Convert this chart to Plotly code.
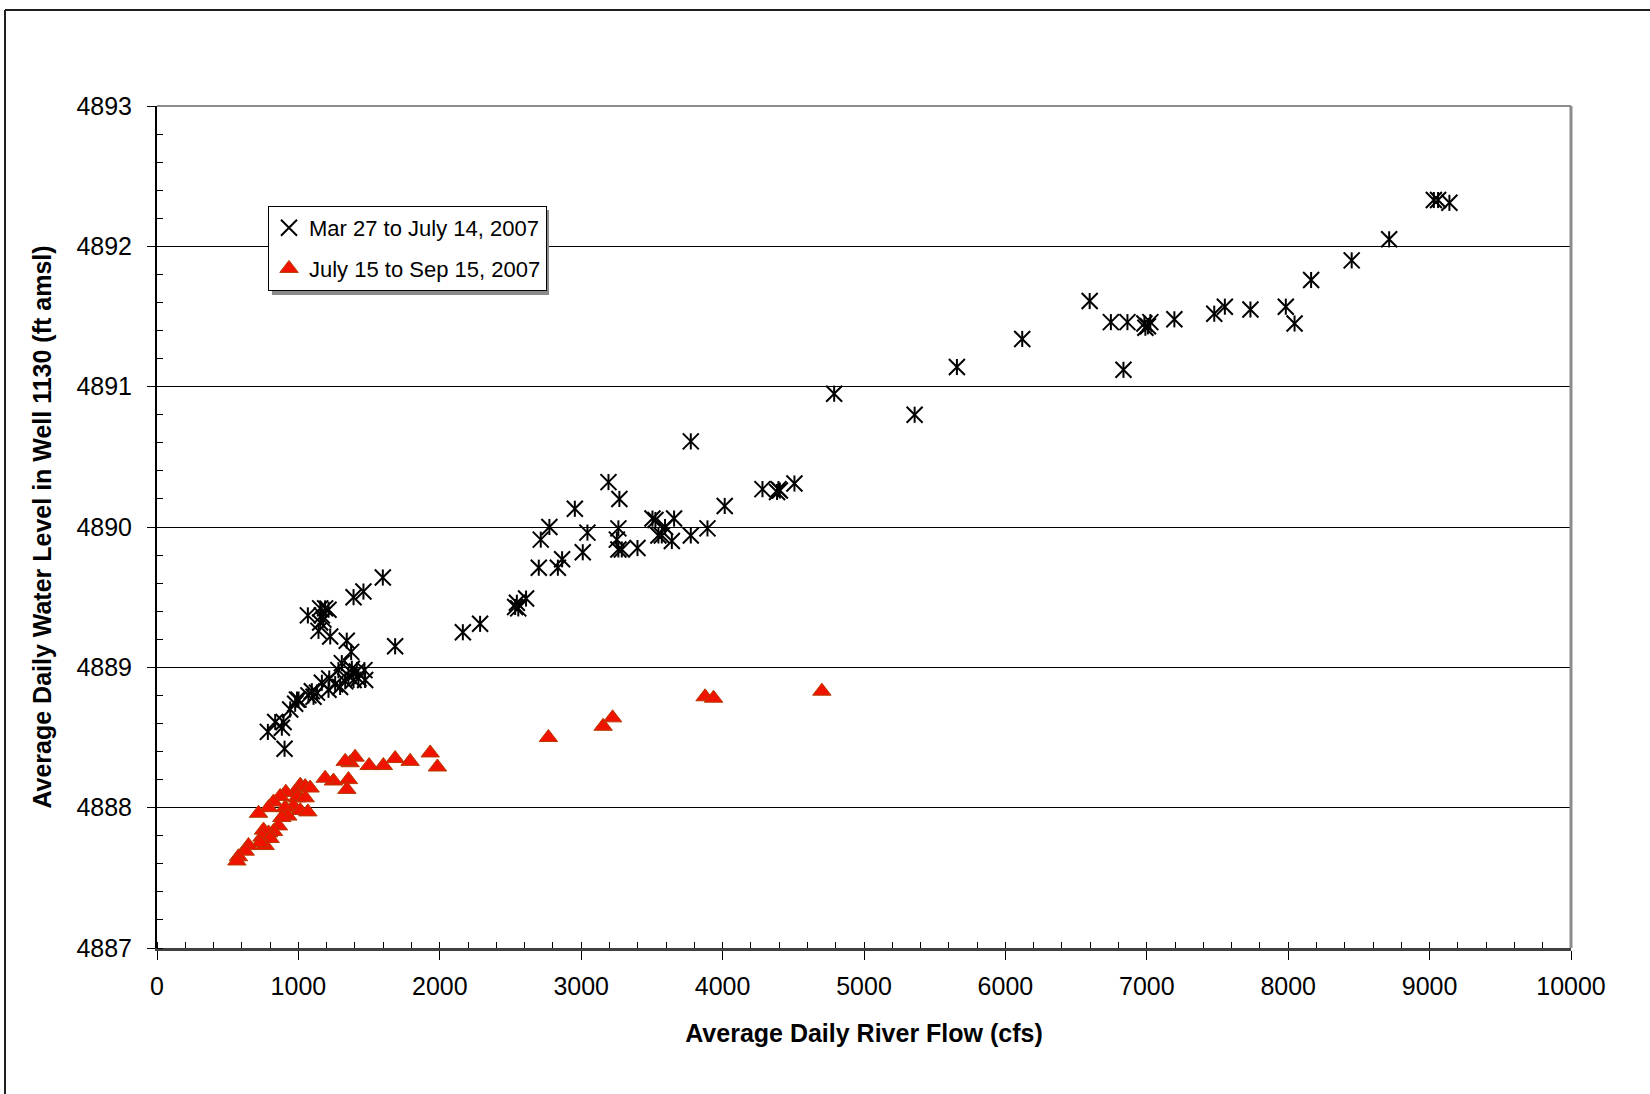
import plotly.graph_objects as go

# Mar 27 - Jul 14, 2007: average daily river flow (cfs) and well 1130 water level (ft amsl)
flow_spring = [
    784, 836, 883, 895, 902, 942, 977, 990, 1001, 1071, 1095, 1107, 1131, 1166,
    1213, 1218, 1260, 1295, 1283, 1307, 1331, 1354, 1378, 1390, 1413, 1425, 1467,
    1472, 1373, 1342, 1067, 1154, 1189, 1213, 1166, 1177, 1154, 1142, 1225, 1390,
    1460, 1597, 1684, 2163, 2285, 2533, 2545, 2555, 2610, 2700, 2835, 2865, 2714,
    2775, 2955, 3011, 3044, 3193, 3270, 3263, 3252, 3263, 3287, 3398, 3504, 3525,
    3593, 3546, 3570, 3641, 3657, 3775, 3893, 4015, 4282, 4385, 4395, 4405, 4508,
    3775, 4789, 5358, 5657, 6119, 6596, 6746, 6863, 6835, 6983, 7008, 7025, 6990,
    7195, 7477, 7552, 7733, 7983, 8045, 8162, 8449, 8714, 9030, 9060, 9140,
]
level_spring = [
    4888.54, 4888.61, 4888.57, 4888.61, 4888.42, 4888.70, 4888.74, 4888.77, 4888.77,
    4888.80, 4888.83, 4888.79, 4888.82, 4888.89, 4888.84, 4888.92, 4888.88, 4888.86,
    4888.98, 4889.03, 4888.90, 4888.94, 4888.99, 4888.91, 4888.97, 4888.92, 4888.98,
    4888.91, 4889.11, 4889.19, 4889.37, 4889.42, 4889.42, 4889.41, 4889.37, 4889.34,
    4889.32, 4889.26, 4889.22, 4889.50, 4889.54, 4889.64, 4889.15, 4889.25, 4889.31,
    4889.43, 4889.46, 4889.42, 4889.49, 4889.71, 4889.71, 4889.77, 4889.91, 4890.00,
    4890.13, 4889.82, 4889.96, 4890.32, 4890.20, 4889.99, 4889.91, 4889.84, 4889.84,
    4889.85, 4890.06, 4890.05, 4890.00, 4889.94, 4889.94, 4889.90, 4890.06, 4889.94,
    4889.99, 4890.15, 4890.27, 4890.25, 4890.27, 4890.26, 4890.31, 4890.61, 4890.95,
    4890.80, 4891.14, 4891.34, 4891.61, 4891.46, 4891.46, 4891.12, 4891.45, 4891.43,
    4891.46, 4891.42, 4891.48, 4891.52, 4891.57, 4891.55, 4891.57, 4891.45, 4891.76,
    4891.90, 4892.05, 4892.33, 4892.33, 4892.31,
]

# Jul 15 - Sep 15, 2007
flow_summer = [
    2768, 3155, 3222, 3876, 3936, 4702, 1932, 1983, 1790, 1684, 1601, 1500, 1401,
    1366, 1331, 1354, 1343, 1248, 1189, 1013, 1048, 1083, 977, 911, 871, 824, 789,
    718, 989, 1048, 965, 1013, 1067, 906, 925, 883, 859, 824, 789, 753, 742, 800,
    765, 730, 647, 624, 576, 565,
]
level_summer = [
    4888.50, 4888.58, 4888.64, 4888.79, 4888.78, 4888.83, 4888.39, 4888.29, 4888.33,
    4888.35, 4888.30, 4888.30, 4888.36, 4888.32, 4888.33, 4888.20, 4888.13, 4888.19,
    4888.21, 4888.16, 4888.15, 4888.14, 4888.11, 4888.11, 4888.08, 4888.04, 4888.00,
    4887.96, 4888.07, 4888.07, 4888.01, 4887.98, 4887.97, 4888.00, 4887.94, 4887.93,
    4887.87, 4887.83, 4887.82, 4887.84, 4887.79, 4887.78, 4887.73, 4887.75, 4887.73,
    4887.69, 4887.65, 4887.62,
]

series_names = ["Mar 27 to July 14, 2007", "July 15 to Sep 15, 2007"]
x_title = "Average Daily River Flow (cfs)"
y_title = "Average Daily Water Level in Well 1130 (ft amsl)"

TICK_FONT = dict(family="Liberation Sans, Arial, sans-serif", size=25, color="black")
TITLE_FONT = dict(family="Liberation Sans Narrow, Arial Narrow, Liberation Sans, sans-serif",
                  size=25, color="black", weight="bold")

# plot-area placement in pixels
L, R, T, B = 157, 1571, 106, 948
W, H = 1650, 1094


def px_x(p):
    return (p - L) / (R - L)


def px_y(p):
    return (B - p) / (B - T)


fig = go.Figure()

# star marker = diagonal cross + vertical bar
fig.add_trace(go.Scatter(
    x=flow_spring, y=level_spring, mode="markers", name=series_names[0],
    legendgroup="a",
    marker=dict(symbol="x-thin-open", size=16, color="black",
                line=dict(color="black", width=2)),
))
fig.add_trace(go.Scatter(
    x=flow_spring, y=level_spring, mode="markers", name=series_names[0],
    legendgroup="a", showlegend=False,
    marker=dict(symbol="line-ns-open", size=11.5, color="black",
                line=dict(color="black", width=2)),
))
fig.add_trace(go.Scatter(
    x=flow_summer, y=level_summer, mode="markers", name=series_names[1],
    legendgroup="b",
    marker=dict(symbol="triangle-up", size=16, color="#F01400",
                line=dict(color="#B53A00", width=1)),
))

fig.update_layout(
    width=W, height=H,
    margin=dict(l=L, r=W - R, t=T, b=H - B),
    paper_bgcolor="white", plot_bgcolor="white",
    showlegend=True,
    legend=dict(
        x=px_x(268), y=px_y(206), xanchor="left", yanchor="top",
        bgcolor="white", bordercolor="black", borderwidth=1,
        font=dict(family="Liberation Sans, Arial, sans-serif", size=22, color="black"),
        traceorder="grouped", tracegroupgap=9,
    ),
)

fig.update_xaxes(
    range=[0, 10000], dtick=1000, tick0=0, tickformat="d",
    showgrid=False, zeroline=False,
    showline=True, linecolor="#404040", linewidth=3,
    ticks="outside", ticklen=9, tickwidth=1, tickcolor="black",
    minor=dict(dtick=200, ticks="inside", ticklen=6, tickcolor="black", tickwidth=1, showgrid=False),
    tickfont=TICK_FONT, ticklabelstandoff=5,
    title=dict(text=x_title, font=TITLE_FONT, standoff=26),
)
fig.update_yaxes(
    range=[4887, 4893], dtick=1, tick0=4887,
    showgrid=True, gridcolor="black", gridwidth=1,
    zeroline=False,
    showline=True, linecolor="black", linewidth=2,
    ticks="outside", ticklen=8, tickwidth=1, tickcolor="black",
    minor=dict(dtick=0.2, ticks="inside", ticklen=6, tickcolor="black", tickwidth=1, showgrid=False),
    tickfont=TICK_FONT, tickformat="d", ticklabelstandoff=10,
    title=dict(text=y_title, font=TITLE_FONT, standoff=18),
)

# drop shadow behind the legend box
fig.add_shape(type="rect", xref="paper", yref="paper",
              x0=px_x(272), x1=px_x(549), y0=px_y(295), y1=px_y(210),
              fillcolor="#8A8A8A", line=dict(width=0), layer="above")

# grey frame on the top and right of the plot area
fig.add_shape(type="line", xref="paper", yref="paper", x0=0, x1=1, y0=1, y1=1,
              line=dict(color="#8C8C8C", width=2))
fig.add_shape(type="line", xref="paper", yref="paper", x0=1, x1=1, y0=0, y1=1,
              line=dict(color="#8C8C8C", width=3))

# chart-area border (top and left edges)
fig.add_shape(type="line", xref="paper", yref="paper", x0=px_x(5), x1=px_x(1660), y0=px_y(10), y1=px_y(10),
              line=dict(color="#202020", width=2))
fig.add_shape(type="line", xref="paper", yref="paper", x0=px_x(5), x1=px_x(5), y0=px_y(1100), y1=px_y(10),
              line=dict(color="#202020", width=2))

fig.write_html("out.html")
